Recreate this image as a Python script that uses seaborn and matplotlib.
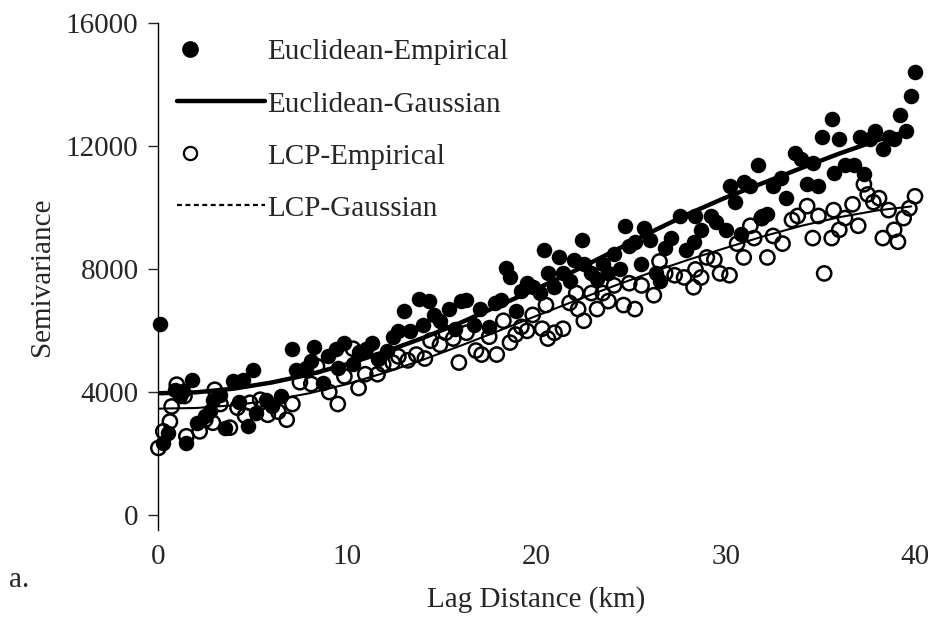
import matplotlib
matplotlib.use("Agg")
import matplotlib.pyplot as plt
from matplotlib.lines import Line2D
from matplotlib.legend_handler import HandlerBase
import seaborn as sns

# Euclidean empirical semivariogram (filled circles)
euc_lag = [0.08, 0.28, 0.53, 0.9, 1.16, 1.33, 1.5, 1.78, 2.04, 2.48, 2.75, 2.9, 3.3, 3.54, 3.96,
           4.3, 4.5, 4.77, 5.03, 5.2, 5.7, 6.0, 6.5,
           7.1, 7.3, 7.8, 8.1, 8.25, 8.7, 9.0, 9.4, 9.5, 9.85, 10.3, 10.6, 11.0, 11.3, 11.6, 12.1,
           12.4, 12.7, 13.0, 13.3, 13.8, 14.0, 14.3, 14.6, 14.9, 15.4, 15.7, 16.0, 16.3, 16.7, 17.0,
           17.5, 17.8, 18.1, 18.4, 18.6, 18.9, 19.2, 19.5, 19.8, 20.2, 20.4, 20.6, 20.95, 21.2, 21.4,
           21.75, 21.97, 22.4, 22.5, 22.9, 23.2, 23.5, 23.8, 24.1, 24.4, 24.7, 24.9, 25.2, 25.5, 25.7,
           26.0, 26.3, 26.5, 26.8, 27.1, 27.6, 27.9, 28.3, 28.4, 28.7, 29.2, 29.5, 30.0, 30.2, 30.5,
           30.8, 30.95, 31.3, 31.7, 31.9, 32.2, 32.5, 32.9, 33.2, 33.65, 34.0, 34.3, 34.6, 34.9, 35.1,
           35.6, 35.7, 36.0, 36.3, 36.8, 37.1, 37.3, 37.6, 37.9, 38.3, 38.6, 38.9, 39.2, 39.5, 39.8, 40.0]
euc_semivar = [6200, 2330, 2660, 4065, 3850, 4010, 2340, 4390, 2990, 3200, 3360, 3740, 3900, 2830, 4335,
               3670, 4390, 2870, 4715, 3310, 3730, 3540, 3860,
               5400, 4700, 4760, 5000, 5470, 4300, 5150, 5400, 4760, 5600, 4900, 5280, 5400, 5600, 5080, 5340,
               5790, 5980, 6630, 5980, 7010, 6180, 6950, 6500, 6300, 6700, 6050, 6950, 7000, 6180, 6700,
               6110, 6880, 7000, 8040, 7720, 6630, 7270, 7530, 7400, 7200, 8620, 7850, 7400, 8370, 7850,
               7600, 8300, 8940, 8170, 7850, 7660, 8170, 7850, 8490, 7980, 9400, 8750, 8880, 8170, 9330,
               8940, 7850, 7600, 8690, 9000, 9720, 8620, 8880, 9720, 9270, 9720, 9520, 9270, 10680, 10170,
               9140, 10810, 10680, 11390, 9720, 9780, 10680, 10940, 10300, 11780, 11580, 10750, 11450, 10680, 12290,
               12870, 11130, 12230, 11390, 11390, 12290, 11070, 12230, 12480, 11900, 12290, 12230, 13000, 12480, 13640, 14410]

# LCP empirical semivariogram (open circles)
lcp_lag = [0.02, 0.28, 0.63, 0.72, 0.99, 1.4, 1.5, 2.2, 2.5, 2.9, 3.0, 3.3, 3.8, 4.2, 4.6, 4.86, 5.4,
           5.8, 6.35, 6.8,
           7.1, 7.5, 8.1, 8.4, 9.05, 9.5, 9.85, 10.3, 10.6, 10.95, 11.6, 11.9, 12.4, 12.7, 13.2, 13.65,
           14.1, 14.4, 14.9, 15.2, 15.6, 15.9, 16.3, 16.8, 17.1, 17.5, 17.9, 18.25, 18.6, 18.9, 19.2,
           19.5, 19.8, 20.3, 20.5, 20.6, 20.95, 21.4, 21.75, 22.1, 22.2, 22.5, 22.9, 23.2, 23.5, 23.8,
           24.1, 24.6, 24.9, 25.2, 25.55, 26.2, 26.5, 26.8, 27.3, 27.8, 28.3, 28.4, 28.7, 29.0, 29.4,
           29.7, 30.2, 30.6, 30.95, 31.3, 31.5, 31.9, 32.2, 32.5, 33.0, 33.5, 33.8, 34.3, 34.6, 34.9,
           35.2, 35.6, 35.7, 36.0, 36.3, 36.7, 37.0, 37.3, 37.5, 37.8, 38.1, 38.3, 38.6, 38.9, 39.1,
           39.4, 39.7, 40.0]
lcp_semivar = [2170, 2710, 3030, 3520, 4230, 3860, 2550, 2710, 3090, 2990, 4065, 3600, 2830, 3480, 3220,
               3640, 3740, 3250, 3350, 3090,
               3600, 4310, 4250, 4830, 3990, 3600, 4500, 5400, 4120, 4570, 4570, 4890, 4950, 5150, 5020, 5210,
               5080, 5660, 5530, 5920, 5730, 4950, 5920, 5340, 5210, 5790, 5210, 6310, 5600, 5860, 6110,
               5980, 6500, 6050, 6820, 5730, 5920, 6050, 6890, 7210, 6690, 6310, 7210, 6690, 7210, 6950,
               7460, 6820, 7530, 6690, 7460, 7140, 8240, 7850, 7790, 7720, 7400, 7980, 7720, 8370, 8300,
               7850, 7790, 8820, 8370, 9400, 9000, 9650, 8370, 9070, 8820, 9590, 9720, 10040, 9000, 9720,
               7850, 9000, 9910, 9270, 9650, 10100, 9400, 10750, 10420, 10170, 10300, 9000, 9910, 9270, 8880,
               9650, 9970, 10360]

# fitted Gaussian models
fit_lag = [0, 2, 4, 6, 8, 10, 12, 14, 16, 18, 20, 22, 24, 26, 28, 30, 32, 34, 36, 38, 39.8]
euc_gauss = [3950, 3980, 4100, 4300, 4560, 4900, 5300, 5750, 6250, 6800, 7350, 7930, 8550, 9180,
             9780, 10320, 10800, 11280, 11750, 12180, 12520]
lcp_gauss = [3450, 3470, 3560, 3720, 3950, 4250, 4620, 5040, 5500, 5980, 6470, 6950, 7420, 7870,
             8290, 8680, 9060, 9400, 9680, 9900, 10030]

labels = ["Euclidean-Empirical", "Euclidean-Gaussian", "LCP-Empirical", "LCP-Gaussian"]


class LeftMarker(HandlerBase):
    # marker sits near the left end of the handle box, like the original legend
    def create_artists(self, legend, orig_handle, xdescent, ydescent, width, height, fontsize, trans):
        m = Line2D([-xdescent + width * 0.15], [height / 2 - ydescent])
        m.update_from(orig_handle)
        m.set_transform(trans)
        return [m]


sns.set_style("white")
plt.rcParams["font.family"] = ["Liberation Serif", "DejaVu Serif"]
plt.rcParams["font.size"] = 21

fig = plt.figure(figsize=(9.36, 6.18), dpi=100)
ax = fig.add_axes([158 / 936, 88 / 618, 757 / 936, 507 / 618])

sns.lineplot(x=fit_lag, y=euc_gauss, ax=ax, color="black", linewidth=3.2, zorder=3)
sns.lineplot(x=fit_lag, y=lcp_gauss, ax=ax, color="black", linewidth=1.5, zorder=3)
sns.scatterplot(x=euc_lag, y=euc_semivar, ax=ax, color="black", s=125, linewidth=0,
                zorder=2, clip_on=False)
sns.scatterplot(x=lcp_lag, y=lcp_semivar, ax=ax, facecolors="none", edgecolor="black", s=105,
                linewidth=1.8, zorder=2, clip_on=False)

ax.set_xlim(0, 40)
ax.set_ylim(-500, 16000)
ax.set_xticks([0, 10, 20, 30, 40])
ax.set_yticks([0, 4000, 8000, 12000, 16000])
ax.tick_params(axis="x", length=0, pad=10, labelsize=21)
ax.tick_params(axis="y", left=True, direction="out", length=7, width=1, pad=7, labelsize=21)
for side in ["top", "right", "bottom"]:
    ax.spines[side].set_visible(False)
ax.spines["left"].set_color("black")
ax.spines["left"].set_linewidth(1)

ax.set_xlabel("Lag Distance (km)", fontsize=21, labelpad=12)
ax.set_ylabel("Semivariance", fontsize=21, labelpad=8)
fig.text(9 / 936, 1 - 587 / 618, "a.", fontsize=21)

handles = [
    Line2D([], [], marker="o", linestyle="none", markersize=11, color="black"),
    Line2D([], [], color="black", linewidth=3.2),
    Line2D([], [], marker="o", linestyle="none", markersize=9.5, markerfacecolor="none",
           markeredgecolor="black", markeredgewidth=1.6),
    Line2D([], [], color="black", linewidth=1.6, linestyle=(0, (2.2, 1.6))),
]
leg = ax.legend(handles, labels, loc="upper left", bbox_to_anchor=(177 / 936, 1 - 39 / 618),
                bbox_transform=fig.transFigure, frameon=False, handlelength=3.0,
                handletextpad=0.1, labelspacing=0.88, borderpad=0, borderaxespad=0,
                handler_map={handles[0]: LeftMarker(), handles[2]: LeftMarker()})

fig.savefig("out.png", dpi=100)
